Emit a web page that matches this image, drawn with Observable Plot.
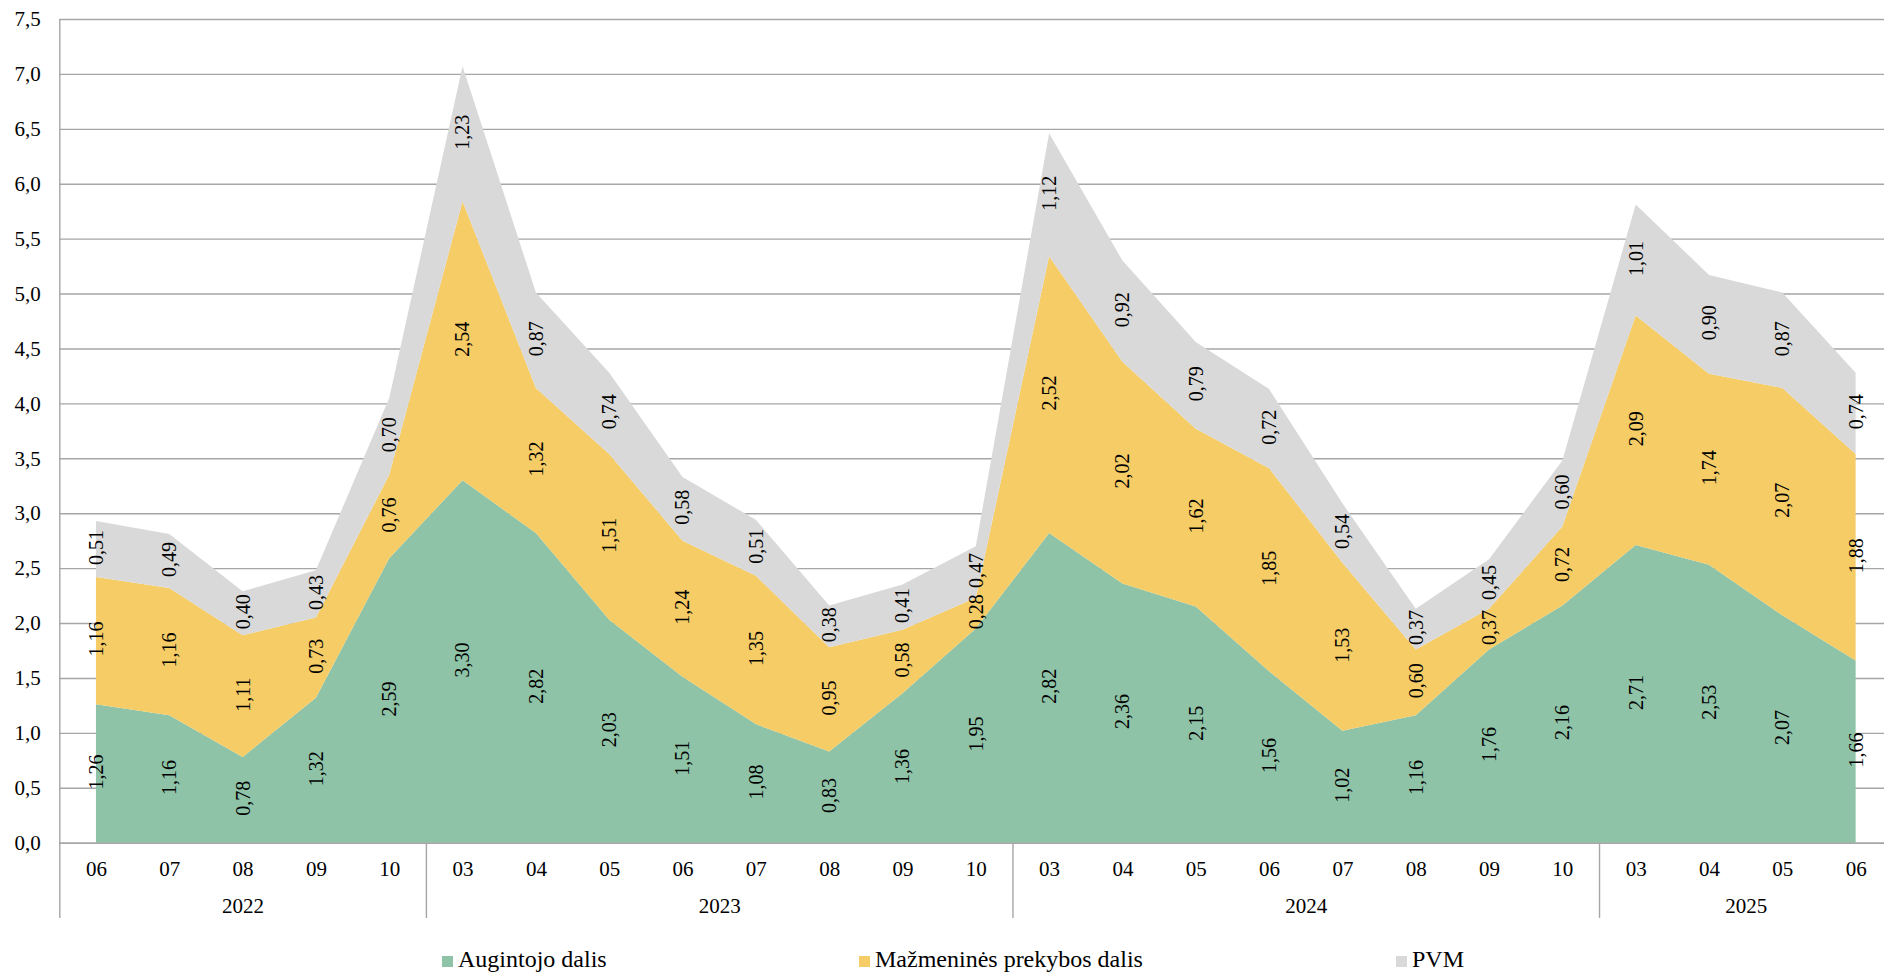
<!DOCTYPE html>
<html><head><meta charset="utf-8">
<script src="https://cdn.jsdelivr.net/npm/d3@7"></script>
<script src="https://cdn.jsdelivr.net/npm/@observablehq/plot@0.6"></script>
<style>
html,body{margin:0;padding:0;background:#fff;overflow:hidden;}
#legend{position:relative;width:1884px;height:43px;font-family:'Liberation Serif','Times New Roman',serif;font-size:24px;color:#000;}
.item{position:absolute;top:17px;height:24px;line-height:24px;white-space:nowrap;}
.sw{position:absolute;left:0;top:9px;width:11px;height:11px;}
.lbl{position:absolute;left:16px;top:0;}
svg text{font-family:'Liberation Serif','Times New Roman',serif;}
</style></head><body><div id="chart"></div><div id="legend"></div>
<script>
const months = ["06","07","08","09","10","03","04","05","06","07","08","09","10","03","04","05","06","07","08","09","10","03","04","05","06"];
const yearLabels = ["2022","2023","2024","2025"];
const yearCounts = [5,8,8,4];
const seriesNames = ["Augintojo dalis","Mažmeninės prekybos dalis","PVM"];
const augintojo = [1.26,1.16,0.78,1.32,2.59, 3.30,2.82,2.03,1.51,1.08,0.83,1.36,1.95, 2.82,2.36,2.15,1.56,1.02,1.16,1.76,2.16, 2.71,2.53,2.07,1.66];
const mazmenines = [1.16,1.16,1.11,0.73,0.76, 2.54,1.32,1.51,1.24,1.35,0.95,0.58,0.28, 2.52,2.02,1.62,1.85,1.53,0.60,0.37,0.72, 2.09,1.74,2.07,1.88];
const pvm = [0.51,0.49,0.40,0.43,0.70, 1.23,0.87,0.74,0.58,0.51,0.38,0.41,0.47, 1.12,0.92,0.79,0.72,0.54,0.37,0.45,0.60, 1.01,0.90,0.87,0.74];
const yTicks = [0,0.5,1,1.5,2,2.5,3,3.5,4,4.5,5,5.5,6,6.5,7,7.5];
const colors = ["#8ec3a7","#f5cc66","#d9d9d9"];

const seriesValues = [augintojo, mazmenines, pvm];
const rows = [];
months.forEach((m, i) => {
  let lo = 0;
  seriesValues.forEach((vals, s) => {
    const hi = lo + vals[i];
    rows.push({i, series: seriesNames[s], value: vals[i], lo, hi, mid: (lo + hi) / 2});
    lo = hi;
  });
});
const yearGroups = [];
let start = 0;
yearLabels.forEach((y, k) => {
  yearGroups.push({year: y, center: start + (yearCounts[k] - 1) / 2, boundary: start - 0.5});
  start += yearCounts[k];
});
const innerBoundaries = yearGroups.slice(1).map(d => d.boundary);

const FONT = "'Liberation Serif','Times New Roman',serif";
const GRID = "#a6a6a6";
const comma = (v, n) => v.toFixed(n).replace(".", ",");

const chart = Plot.plot({
  width: 1884, height: 930,
  marginTop: 19, marginLeft: 59.3, marginRight: 0, marginBottom: 87.3,
  x: {type: "linear", domain: [-0.5, months.length - 0.5], range: [59.3, 59.3 + months.length * 73.32], axis: null},
  y: {domain: [0, 7.5], axis: null},
  color: {domain: seriesNames, range: colors},
  style: {fontFamily: FONT, fontSize: "21px", color: "#000", background: "#fff", overflow: "hidden"},
  marks: [
    Plot.gridY(yTicks, {stroke: GRID, strokeOpacity: 1, strokeWidth: 1.4}),
    Plot.areaY(rows, {x: "i", y1: "lo", y2: "hi", fill: "series", z: "series"}),
    Plot.ruleY([0], {stroke: GRID, strokeWidth: 1.4}),
    Plot.ruleX([yearGroups[0].boundary], {stroke: GRID, strokeWidth: 1.4, insetBottom: -75.3}),
    Plot.ruleX(innerBoundaries, {stroke: GRID, strokeWidth: 1.4, insetTop: 823.7, insetBottom: -75.3}),
    Plot.axisY(yTicks, {tickFormat: d => comma(d, 1), tickSize: 0, tickPadding: 19, fontSize: 21, fill: "#000"}),
    Plot.text(months, {x: (d, i) => i, y: () => 0, text: d => d, dy: 25.6, lineAnchor: "middle", fontSize: 21, fill: "#000"}),
    Plot.text(yearGroups, {x: "center", y: () => 0, text: "year", dy: 63, lineAnchor: "middle", fontSize: 21, fill: "#000"}),
    Plot.text(rows, {x: "i", y: "mid", text: d => comma(d.value, 2), rotate: -90, fontSize: 20, fill: "#000", lineAnchor: "middle", textAnchor: "middle", dy: -2})
  ]
});
document.getElementById("chart").appendChild(chart);

const legendLefts = [442, 859, 1396];
const legend = document.getElementById("legend");
seriesNames.forEach((name, s) => {
  const item = document.createElement("div");
  item.className = "item";
  item.style.left = legendLefts[s] + "px";
  const sw = document.createElement("span");
  sw.className = "sw";
  sw.style.background = colors[s];
  const lbl = document.createElement("span");
  lbl.className = "lbl";
  lbl.textContent = name;
  item.appendChild(sw);
  item.appendChild(lbl);
  legend.appendChild(item);
});
</script>
</body></html>
